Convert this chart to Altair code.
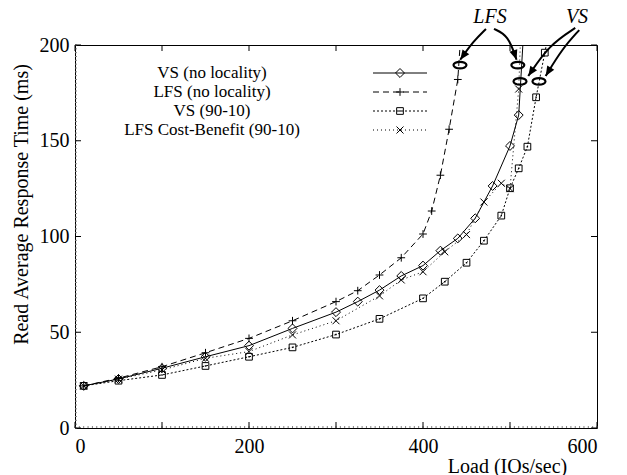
import math
import altair as alt
import pandas as pd

FONT = "Liberation Serif"
W, H = 522, 383          # plot area in px
X_MAX, Y_MAX = 600, 200

# ---- measured read response times (ms) vs offered load (IOs/sec) ----
vs_load = [10, 50, 100, 150, 200, 250, 300, 325, 350, 375, 400, 420, 440, 460, 480, 500, 510, 520]
vs_rt = [22, 25.6, 31.2, 37.2, 43, 52, 60.5, 66, 72, 79.4, 84.8, 92.6, 99, 109.5, 126.4, 147.3, 163.4, 240]

lfs_load = [10, 50, 100, 150, 200, 250, 300, 325, 350, 375, 400, 410, 420, 430, 440, 450]
lfs_rt = [22, 26, 32, 39.3, 46.8, 56, 66, 71.7, 79.9, 88.9, 101.3, 113.3, 132, 156, 182, 250]

vs9010_load = [10, 50, 100, 150, 200, 250, 300, 350, 400, 425, 450, 470, 490, 500, 510, 520, 530, 540, 550]
vs9010_rt = [22, 24.7, 27.7, 32.4, 37.2, 42.1, 48.8, 57, 67.7, 76.4, 86.3, 97.8, 110.9, 125.2, 135.6, 146.9, 172.7, 196, 219]

lfscb_load = [10, 50, 100, 150, 200, 250, 300, 350, 375, 400, 425, 450, 470, 490, 500, 510, 515]
lfscb_rt = [22, 25.5, 30.3, 36.4, 39.9, 48.6, 56, 69, 77.3, 81.6, 92, 101, 118, 127.8, 125, 177, 240]

x_ticks = [0, 100, 200, 300, 400, 500, 600]
x_labels = [0, 200, 400, 600]
y_ticks = [0, 50, 100, 150, 200]
x_minor = list(range(0, 601, 5))
y_minor = list(range(0, 201, 2))

PLUS = "M -1 0 L 1 0 M 0 -1 L 0 1"
TIMES = "M -1 -1 L 1 1 M -1 1 L 1 -1"
ELLIPSE = ("M -1 0 C -1 -0.276 -0.552 -0.5 0 -0.5 C 0.552 -0.5 1 -0.276 1 0 "
           "C 1 0.276 0.552 0.5 0 0.5 C -0.552 0.5 -1 0.276 -1 0 Z")
ARROW = "M 0 0 L 0.42 1 L -0.42 1 Z"

series = [
    dict(name="VS (no locality)", load=vs_load, rt=vs_rt, dash=None, shape="diamond", size=80, dot=False),
    dict(name="LFS (no locality)", load=lfs_load, rt=lfs_rt, dash=[6, 4], shape=PLUS, size=60, dot=False),
    dict(name="VS (90-10)", load=vs9010_load, rt=vs9010_rt, dash=[2, 2], shape="square", size=45, dot=True),
    dict(name="LFS Cost-Benefit (90-10)", load=lfscb_load, rt=lfscb_rt, dash=[1, 3], shape=TIMES, size=49, dot=False),
]

xs = alt.Scale(domain=[0, X_MAX], nice=False, zero=False)
ys = alt.Scale(domain=[0, Y_MAX], nice=False, zero=False)

x_axis = alt.Axis(
    values=x_labels, format="d", ticks=False, domain=False, grid=False,
    labelFont=FONT, labelFontSize=20, labelColor="black", labelPadding=8,
    title="Load (IOs/sec)", titleFont=FONT, titleFontSize=20, titleFontWeight="normal",
    titleColor="black", titleAlign="center", titleBaseline="middle",
    titleX=432, titleY=38,
)
y_axis = alt.Axis(
    values=y_ticks, format="d", ticks=False, domain=False, grid=False,
    labelFont=FONT, labelFontSize=20, labelColor="black", labelPadding=6,
    title="Read Average Response Time (ms)", titleFont=FONT, titleFontSize=20,
    titleFontWeight="normal", titleColor="black", titleAngle=270,
    titleAlign="center", titleBaseline="middle", titleX=-54, titleY=159,
)


def xq(field):
    return alt.X(f"{field}:Q", scale=xs, axis=x_axis)


def yq(field):
    return alt.Y(f"{field}:Q", scale=ys, axis=y_axis)


layers = []

# fine minor ticks along the bottom and left edges
layers.append(alt.Chart(pd.DataFrame({"v": x_minor})).mark_rule(color="#808080", strokeWidth=1).encode(
    x=xq("v"), y=alt.value(H), y2=alt.value(H - 2)))
layers.append(alt.Chart(pd.DataFrame({"v": y_minor})).mark_rule(color="#808080", strokeWidth=1).encode(
    y=yq("v"), x=alt.value(0), x2=alt.value(2)))

# inward major tick marks on all four sides of the frame
xt = pd.DataFrame({"v": x_ticks})
yt = pd.DataFrame({"v": y_ticks})
layers.append(alt.Chart(xt).mark_rule(color="black", strokeWidth=1).encode(
    x=xq("v"), y=alt.value(H), y2=alt.value(H - 6)))
layers.append(alt.Chart(xt).mark_rule(color="black", strokeWidth=1).encode(
    x=xq("v"), y=alt.value(0), y2=alt.value(6)))
layers.append(alt.Chart(yt).mark_rule(color="black", strokeWidth=1).encode(
    y=yq("v"), x=alt.value(0), x2=alt.value(6)))
layers.append(alt.Chart(yt).mark_rule(color="black", strokeWidth=1).encode(
    y=yq("v"), x=alt.value(W - 6), x2=alt.value(W)))

# data series: line + open markers
for s in series:
    df = pd.DataFrame({"load": s["load"], "rt": s["rt"]})
    line_kw = dict(color="black", strokeWidth=1, clip=True)
    if s["dash"]:
        line_kw["strokeDash"] = s["dash"]
    layers.append(alt.Chart(df).mark_line(**line_kw).encode(x=xq("load"), y=yq("rt")))
    pts = df[df["rt"] <= Y_MAX]
    layers.append(alt.Chart(pts).mark_point(
        shape=s["shape"], size=s["size"], filled=False, color="black",
        strokeWidth=1, opacity=1, clip=True).encode(x=xq("load"), y=yq("rt")))
    if s["dot"]:
        layers.append(alt.Chart(pts).mark_point(
            shape="square", size=2, filled=True, color="black", opacity=1,
            clip=True).encode(x=xq("load"), y=yq("rt")))

# key (upper left, inside the frame)
key_text_x = 137
key_rows = [28, 47, 66, 85]
key_x1, key_x2, key_mark = 298, 352, 325
for s, ry in zip(series, key_rows):
    layers.append(alt.Chart(pd.DataFrame({"t": [s["name"]]})).mark_text(
        font=FONT, fontSize=17, color="black", align="center", baseline="middle").encode(
        x=alt.value(key_text_x), y=alt.value(ry), text="t:N"))
    rule_kw = dict(color="black", strokeWidth=1)
    if s["dash"]:
        rule_kw["strokeDash"] = s["dash"]
    layers.append(alt.Chart(pd.DataFrame({"t": [0]})).mark_rule(**rule_kw).encode(
        x=alt.value(key_x1), x2=alt.value(key_x2), y=alt.value(ry)))
    layers.append(alt.Chart(pd.DataFrame({"t": [0]})).mark_point(
        shape=s["shape"], size=s["size"], filled=False, color="black",
        strokeWidth=1, opacity=1).encode(x=alt.value(key_mark), y=alt.value(ry)))
    if s["dot"]:
        layers.append(alt.Chart(pd.DataFrame({"t": [0]})).mark_point(
            shape="square", size=2, filled=True, color="black", opacity=1).encode(
            x=alt.value(key_mark), y=alt.value(ry)))

# saturation call-outs: labels, curved arrows, ellipses
labels = pd.DataFrame({"x": [477, 577], "y": [214.5, 214.5], "t": ["LFS", "VS"]})
layers.append(alt.Chart(labels).mark_text(
    font=FONT, fontSize=20, fontStyle="italic", color="black",
    align="center", baseline="middle").encode(x=xq("x"), y=yq("y"), text="t:N"))

arrows = {
    "lfs_a": [(472.4, 208.4), (458, 202), (442.8, 192.3)],
    "lfs_b": [(481.6, 208.4), (498, 205), (507.5, 192.3)],
    "vs_a": [(575.0, 208.9), (545, 200), (521.0, 183.8)],
    "vs_b": [(579.6, 207.8), (560, 198), (541.0, 183.8)],
}
px_x = W / X_MAX
px_y = H / Y_MAX
rows, heads = [], []
for key, pts in arrows.items():
    for k, (ax, ay) in enumerate(pts):
        rows.append({"id": key, "k": k, "x": ax, "y": ay})
    (mx, my), (ex, ey) = pts[-2], pts[-1]
    dx = (ex - mx) * px_x
    dy = -(ey - my) * px_y
    ang = math.degrees(math.atan2(dx, -dy)) % 360
    heads.append({"x": ex, "y": ey, "ang": ang})
layers.append(alt.Chart(pd.DataFrame(rows)).mark_line(
    interpolate="basis", color="black", strokeWidth=2).encode(
    x=xq("x"), y=yq("y"), detail="id:N", order="k:Q"))
layers.append(alt.Chart(pd.DataFrame(heads)).mark_point(
    shape=ARROW, size=380, filled=True, color="black", opacity=1).encode(
    x=xq("x"), y=yq("y"), angle=alt.Angle("ang:Q", scale=None)))

ellipses = pd.DataFrame({"x": [442.5, 509, 511.5, 533.3], "y": [189.5, 189.5, 181, 181]})
layers.append(alt.Chart(ellipses).mark_point(
    shape=ELLIPSE, size=169, filled=False, color="black", strokeWidth=2.2,
    opacity=1).encode(x=xq("x"), y=yq("y")))

chart = alt.layer(*layers).properties(
    width=W, height=H,
    padding={"left": 75, "top": 45, "right": 627 - 75 - W, "bottom": 475 - 45 - H},
    autosize=alt.AutoSizeParams(type="none"),
    background="white",
).configure_view(stroke="black", strokeWidth=1)

chart.save("out.html", embed_options={"renderer": "svg", "actions": False})
